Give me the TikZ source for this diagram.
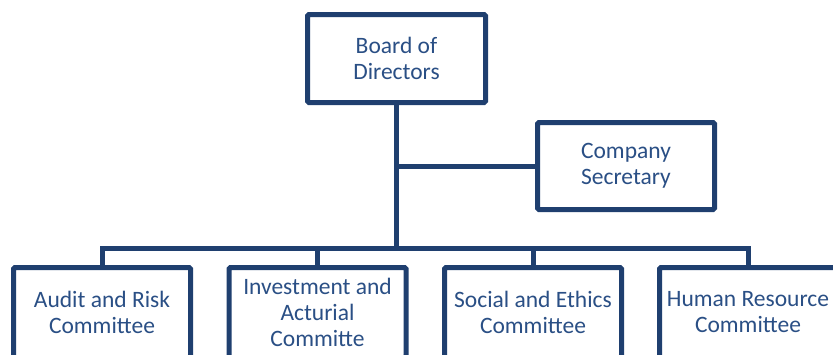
\documentclass[tikz,border=0pt]{standalone}
\usepackage{fontspec}
\setmainfont{Carlito}
\usepackage{tikz}
\definecolor{boardblue}{HTML}{1F3F6F}
\definecolor{textblue}{HTML}{2A4F85}
\tikzset{
  orgbox/.style={draw=boardblue, line width=5pt, fill=white, rounded corners=1.5pt,
    minimum width=177pt, minimum height=88pt, align=center, text=textblue,
    font=\fontsize{23.5}{26}\selectfont, inner sep=0pt},
  link/.style={draw=boardblue, line width=5pt, line join=miter}
}

\begin{document}
\begin{tikzpicture}[x=1pt,y=-1pt]
\useasboundingbox (0,0) rectangle (833,354);
\clip (0,0) rectangle (833,354);
% top of the chart
\node[orgbox, minimum width=178pt] (board) at (396.5,58.5) {Board of\\Directors};
\node[orgbox, minimum height=87pt] (secretary) at (626,166) {Company\\Secretary};
% committees
\node[orgbox, minimum height=90pt] (audit) at (102,312.5) {Audit and Risk\\Committee};
\node[orgbox, minimum height=90pt] (invest) at (317.5,312.5) {Investment and\\Acturial\\Committe};
\node[orgbox, minimum height=90pt] (social) at (533,312.5) {Social and Ethics\\Committee};
\node[orgbox, minimum height=90pt] (hr) at (748,312.5) {Human Resource\\Committee};
\coordinate (bus) at (396.5,248);
% connectors
\draw[link] (board.south) -- (board.south |- bus);
\draw[link] (board.south |- secretary.west) -- (secretary.west);
\draw[link] (audit.north) -- (audit.north |- bus) -- (hr.north |- bus) -- (hr.north);
\draw[link] (invest.north) -- (invest.north |- bus);
\draw[link] (social.north) -- (social.north |- bus);
\end{tikzpicture}
\end{document}
